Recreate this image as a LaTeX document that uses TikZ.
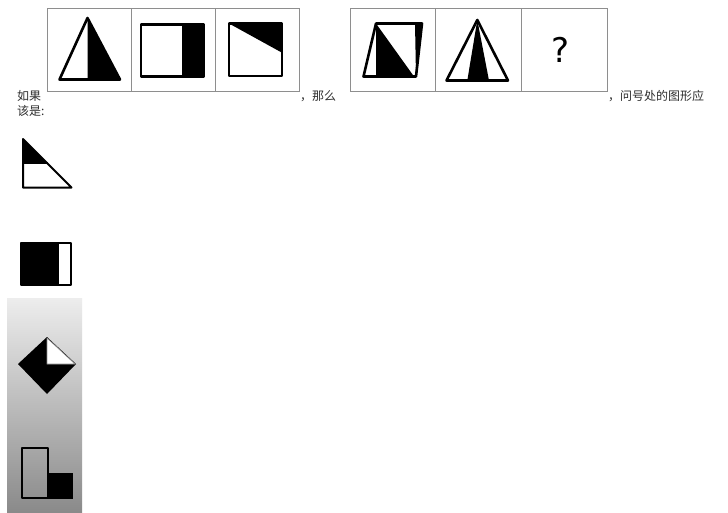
\documentclass[tikz,border=0pt]{standalone}
\usepackage{fontspec}
\newfontfamily\cjk{Noto Sans CJK SC}
\newfontfamily\qmark{DejaVu Sans}
\definecolor{ink}{HTML}{000000}
\definecolor{grid}{HTML}{8E8E8E}
\definecolor{txt}{HTML}{2E2E2E}
\definecolor{fade}{HTML}{EDEDED}
\definecolor{dusk}{HTML}{8A8A8A}
\tikzset{
  cell/.style={draw=grid,line width=1pt},
  figline/.style={draw=ink,line width=2.6pt,line join=round},
  optline/.style={draw=ink,line width=2pt,line join=round},
  blk/.style={fill=ink},
  label/.style={font=\cjk\fontsize{12}{14}\selectfont,text=txt,inner sep=0pt,anchor=west}
}

\begin{document}
\begin{tikzpicture}[x=1pt,y=-1pt]
    \useasboundingbox (0,0) rectangle (728,512);
    \fill[white] (0,0) rectangle (728,512);
    \def\top{8}
    \def\h{83}

    % the two rows of cells
    \foreach \x in {47,131,215} {
      \draw[cell] (\x,\top) rectangle ++(84,\h);
    }
    \foreach \x in {350,435.7,521.3} {
      \draw[cell] (\x,\top) rectangle ++(85.7,\h);
    }

    % first row
    \fill[blk] (87.5,18) -- (120,79.5) -- (87.5,79.5) -- cycle;
    \draw[figline] (87.5,18) -- (120,79.5) -- (59.5,79.5) -- cycle;
    \fill[blk] (182,24.5) rectangle (204,76.5);
    \draw[figline] (141,24.5) rectangle (204,76.5);
    \fill[blk] (229,23.5) -- (282,23.5) -- (282,52.7) -- cycle;
    \draw[figline] (229,23.5) rectangle (282,76);

    % second row
    \fill[blk] (376,23.5) -- (376,76.5) -- (414,76.5) -- cycle;
    \fill[blk] (415,23.5) -- (422,23.5) -- (416,76.5) -- cycle;
    \draw[figline] (376,23.5) -- (422,23.5) -- (416,76.5) -- (363.5,76.5) -- cycle;
    \fill[blk] (477.3,20) -- (489,80.5) -- (467.3,80.5) -- cycle;
    \draw[figline] (477.3,20) -- (508,80.5) -- (446.5,80.5) -- cycle;
    \node[font=\qmark\fontsize{34}{36}\selectfont,inner sep=0pt] (ask) at (561,50) {?};

    % question text
    \node[label] (ruguo) at (17,96) {如果};
    \node[label] (name) at (300,96) {，那么};
    \node[label] (wenhao) at (608,96) {，问号处的图形应};
    \node[label] (gaishi) at (17,111) {该是:};

    % options
    \fill[blk] (23,139) -- (47.5,163) -- (23,163) -- cycle;
    \draw[optline] (23,139) -- (71.5,187.5) -- (23,187.5) -- cycle;
    \draw[optline] (23,163) -- (47.5,163);
    \fill[blk] (21,243) rectangle (59,285);
    \draw[optline] (21,243) rectangle (71,285);

    \shade[top color=fade,bottom color=dusk] (7,298) rectangle (82,512);
    \fill[blk] (47,337) -- (76,364) -- (47,394) -- (18,364) -- cycle;
    \filldraw[fill=white,draw=grid,line width=0.6pt] (47,338) -- (75,364) -- (47,364) -- cycle;
    \draw[optline] (22,448) rectangle (48,498);
    \fill[blk] (48,473) rectangle (73,498.9);
\end{tikzpicture}
\end{document}
